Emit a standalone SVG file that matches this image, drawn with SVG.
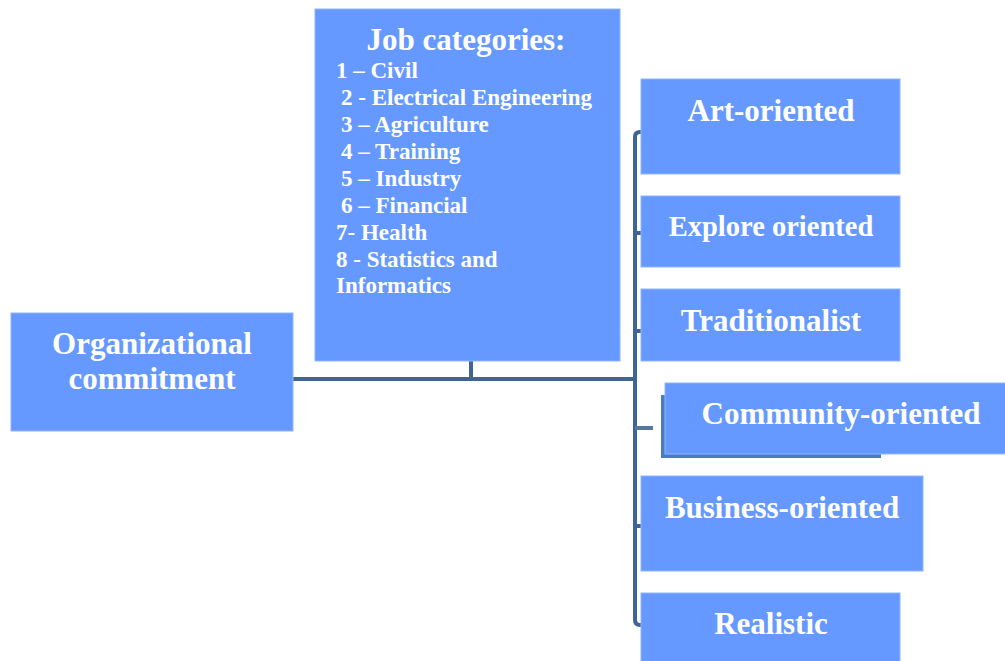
<svg xmlns="http://www.w3.org/2000/svg" width="1005" height="661" viewBox="0 0 1005 661">
<style>
.box{fill:#6699FF;stroke:#8FB4FF;stroke-width:1}
.t{font-family:"Liberation Serif","Times New Roman",serif;font-weight:bold;fill:#FFFFFF}
.big{font-size:31px;text-anchor:middle}
.item{font-size:23px}
.conn{stroke:#3E6594;stroke-width:4;fill:none}
</style>
<rect width="1005" height="661" fill="#FFFFFF"/>
<g id="connectors">
<path class="conn" d="M293 379 H636"/>
<path class="conn" d="M471 361 V379"/>
<path class="conn" d="M641 132 H640 Q635 132 635 137 V620 Q635 625 640 625 H641"/>
<path class="conn" d="M635 233 H641"/>
<path class="conn" d="M635 331 H641"/>
<path class="conn" d="M635 428 H653" style="stroke:#5577A0"/>
<path class="conn" d="M635 526 H641"/>
</g>
<g id="org">
<rect class="box" x="11" y="313" width="282" height="118"/>
<text class="t big" x="152" y="354">Organizational</text>
<text class="t big" x="152" y="389">commitment</text>
</g>
<g id="jobs">
<rect class="box" x="315" y="9" width="305" height="352"/>
<text class="t big" x="466" y="50">Job categories:</text>
<text class="t item" x="336" y="78">1 – Civil</text>
<text class="t item" x="341" y="105">2 - Electrical Engineering</text>
<text class="t item" x="341" y="132">3 – Agriculture</text>
<text class="t item" x="341" y="159">4 – Training</text>
<text class="t item" x="341" y="186">5 – Industry</text>
<text class="t item" x="341" y="213">6 – Financial</text>
<text class="t item" x="336" y="240">7- Health</text>
<text class="t item" x="336" y="267">8 - Statistics and</text>
<text class="t item" x="336" y="293">Informatics</text>
</g>
<g id="art">
<rect class="box" x="641" y="79" width="259" height="95"/>
<text class="t big" x="771" y="121">Art-oriented</text>
</g>
<g id="explore">
<rect class="box" x="641" y="196" width="259" height="71"/>
<text class="t big" x="771" y="236" style="font-size:28.5px">Explore oriented</text>
</g>
<g id="traditionalist">
<rect class="box" x="641" y="289" width="259" height="72"/>
<text class="t big" x="771" y="331">Traditionalist</text>
</g>
<g id="community">
<rect x="661" y="395" width="220" height="63" fill="#4A7CC4"/>
<rect class="box" x="665" y="383" width="341" height="71"/>
<text class="t big" x="841" y="424">Community-oriented</text>
</g>
<g id="business">
<rect class="box" x="641" y="476" width="282" height="95"/>
<text class="t big" x="782" y="518">Business-oriented</text>
</g>
<g id="realistic">
<rect class="box" x="641" y="593" width="259" height="70"/>
<text class="t big" x="771" y="634">Realistic</text>
</g>
</svg>
